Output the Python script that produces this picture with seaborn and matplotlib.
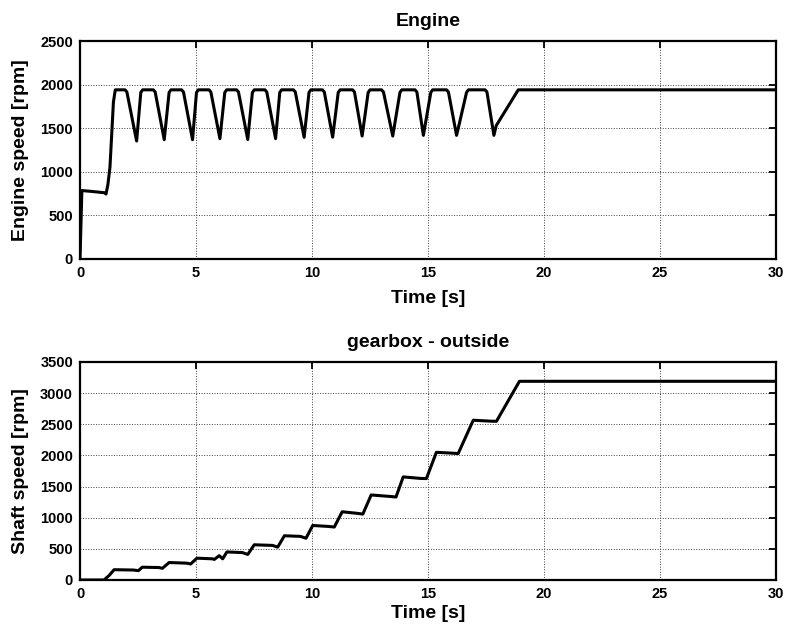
import matplotlib
matplotlib.use('Agg')
import matplotlib.pyplot as plt
import seaborn as sns

# engine speed trace, breakpoints (time in s, rpm)
engine_t = [0.00, 0.08, 0.50, 1.05, 1.12, 1.20, 1.29, 1.37, 1.44, 1.52,
            1.94, 2.02, 2.44, 2.62, 2.70,
            3.16, 3.24, 3.63, 3.84, 3.92,
            4.38, 4.46, 4.85, 5.02, 5.10,
            5.56, 5.64, 6.03, 6.24, 6.32,
            6.75, 6.83, 7.23, 7.43, 7.51,
            7.97, 8.05, 8.43, 8.61, 8.69,
            9.20, 9.28, 9.66, 9.87, 9.95,
            10.45, 10.53, 10.89, 11.13, 11.21,
            11.75, 11.83, 12.16, 12.42, 12.50,
            13.00, 13.08, 13.48, 13.79, 13.87,
            14.44, 14.52, 14.80, 15.12, 15.20,
            15.80, 15.88, 16.23, 16.33, 16.66, 16.74,
            17.46, 17.54, 17.84, 17.94, 18.89, 30.00]
engine_rpm = [0, 785, 775, 760, 745, 850, 1050, 1450, 1800, 1940,
              1940, 1915, 1353, 1910, 1940,
              1940, 1915, 1368, 1910, 1940,
              1940, 1915, 1368, 1910, 1940,
              1940, 1915, 1380, 1910, 1940,
              1940, 1915, 1370, 1910, 1940,
              1940, 1915, 1380, 1910, 1940,
              1940, 1915, 1395, 1910, 1940,
              1940, 1915, 1397, 1910, 1940,
              1940, 1915, 1410, 1910, 1940,
              1940, 1915, 1410, 1910, 1940,
              1940, 1915, 1418, 1910, 1940,
              1940, 1915, 1418, 1530, 1910, 1940,
              1940, 1915, 1418, 1530, 1940, 1940]

# gearbox output shaft speed
shaft_t = [0.00, 1.03, 1.25, 1.47, 2.30, 2.52, 2.68, 3.40, 3.55, 3.84,
           4.60, 4.77, 5.04, 5.70, 5.79, 6.00, 6.15, 6.33, 7.00, 7.23,
           7.51, 8.30, 8.52, 8.81, 9.50, 9.74, 10.03, 10.70, 10.96, 11.30,
           11.95, 12.19, 12.55, 13.40, 13.62, 13.93, 14.70, 14.93, 15.36, 16.10,
           16.30, 16.95, 17.70, 17.95, 18.94, 30.00]
shaft_rpm = [0, 0, 70, 165, 160, 150, 205, 200, 187, 280,
             270, 257, 350, 340, 330, 390, 340, 450, 440, 410,
             565, 555, 527, 710, 700, 670, 875, 860, 850, 1095,
             1070, 1058, 1365, 1340, 1332, 1655, 1630, 1628, 2050, 2035,
             2030, 2565, 2550, 2548, 3190, 3190]

sns.set_style('white')
plt.rcParams['font.family'] = ['Liberation Sans', 'DejaVu Sans']
plt.rcParams['font.weight'] = 'bold'
plt.rcParams['text.color'] = 'black'
plt.rcParams['axes.labelcolor'] = 'black'

fig = plt.figure(figsize=(7.86, 6.30), dpi=100)
ax1 = fig.add_axes([0.1018, 0.5889, 0.8855, 0.346])
ax2 = fig.add_axes([0.1018, 0.0794, 0.8855, 0.346])

sns.lineplot(x=engine_t, y=engine_rpm, ax=ax1, color='black', lw=2.2,
             sort=False, estimator=None)
sns.lineplot(x=shaft_t, y=shaft_rpm, ax=ax2, color='black', lw=2.2,
             sort=False, estimator=None)


def matlab_look(ax, ymax, title, ylabel, xpad):
    ax.set_xlim(0, 30)
    ax.set_ylim(0, ymax)
    ax.set_xticks(range(0, 31, 5))
    ax.set_yticks(range(0, ymax + 1, 500))
    ax.grid(True, linestyle=':', color='0.25', linewidth=0.7)
    ax.tick_params(direction='in', top=True, right=True, length=5,
                   width=1.3, labelsize=10.5, pad=5, colors='black')
    for s in ax.spines.values():
        s.set_color('black')
        s.set_linewidth(1.6)
    ax.set_title(title, fontsize=14, fontweight='bold', pad=11, color='black')
    ax.set_xlabel('Time [s]', fontsize=14, fontweight='bold', labelpad=xpad)
    ax.set_ylabel(ylabel, fontsize=14, fontweight='bold', labelpad=8)


matlab_look(ax1, 2500, 'Engine', 'Engine speed [rpm]', 7)
matlab_look(ax2, 3500, 'gearbox - outside', 'Shaft speed [rpm]', 3)

fig.savefig('out.png', dpi=100)
